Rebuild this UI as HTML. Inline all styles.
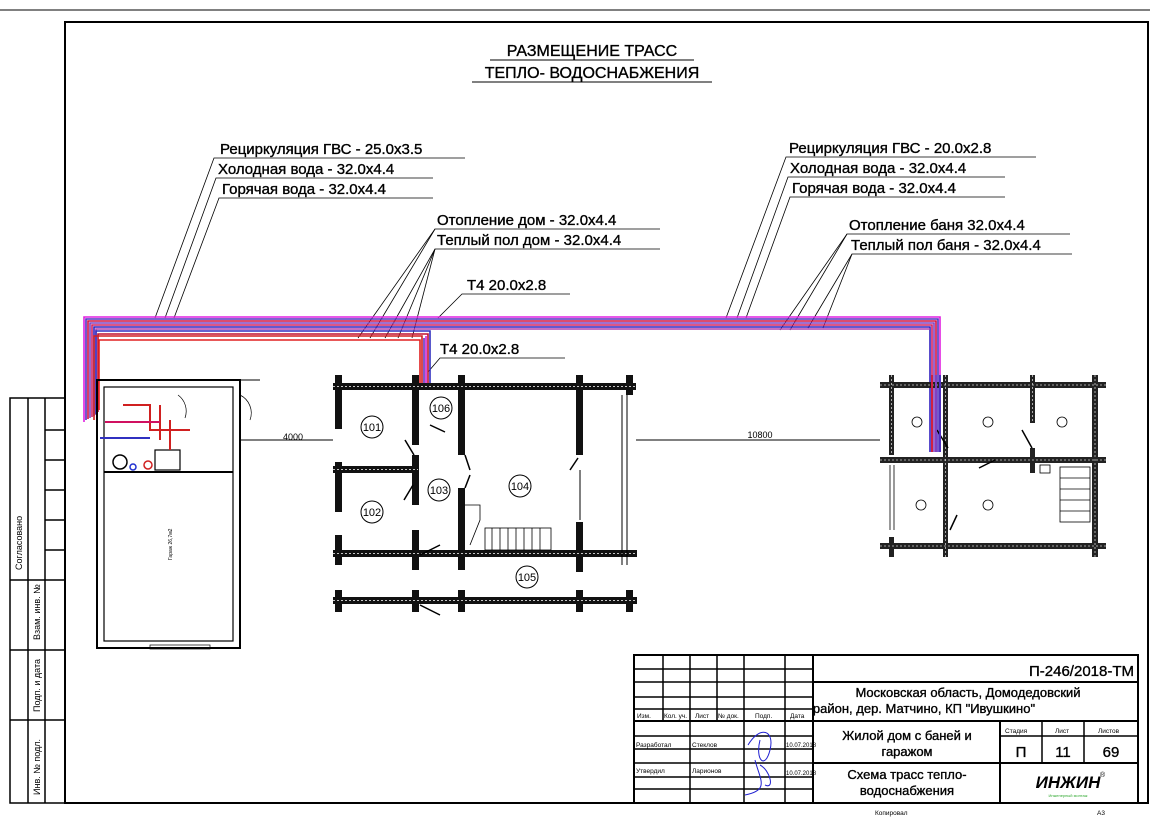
<!DOCTYPE html>
<html><head><meta charset="utf-8"><style>
html,body{margin:0;padding:0;background:#fff;}
svg{display:block}
text{font-family:"Liberation Sans",Arial,sans-serif;fill:#000}
.lb text{stroke:#000;stroke-width:0.35}
</style></head><body>
<svg width="1166" height="824" viewBox="0 0 1166 824" xmlns="http://www.w3.org/2000/svg">
<rect width="1166" height="824" fill="#fff"/>
<line x1="0" y1="10" x2="1150" y2="10" stroke="#000" stroke-width="1"/>
<rect x="65" y="22" width="1083" height="781" fill="none" stroke="#000" stroke-width="2"/>
<g stroke="#000" stroke-width="1.5" fill="none">
<rect x="10" y="398" width="55" height="405"/>
<line x1="28" y1="398" x2="28" y2="803"/>
<line x1="45" y1="398" x2="45" y2="803"/>
<line x1="10" y1="580" x2="65" y2="580"/>
<line x1="10" y1="650" x2="65" y2="650"/>
<line x1="10" y1="720" x2="65" y2="720"/>
<line x1="45" y1="430" x2="65" y2="430"/>
<line x1="45" y1="460" x2="65" y2="460"/>
<line x1="45" y1="490" x2="65" y2="490"/>
<line x1="45" y1="520" x2="65" y2="520"/>
<line x1="45" y1="550" x2="65" y2="550"/>
</g>
<text transform="translate(22,570) rotate(-90)" font-size="9">Согласовано</text>
<text transform="translate(40,640) rotate(-90)" font-size="9">Взам. инв. №</text>
<text transform="translate(40,712) rotate(-90)" font-size="9">Подп. и дата</text>
<text transform="translate(40,795) rotate(-90)" font-size="9">Инв. № подл.</text>

<g class="lb">
<text x="592" y="56" font-size="16" text-anchor="middle">РАЗМЕЩЕНИЕ ТРАСС</text>
<text x="592" y="78" font-size="16" text-anchor="middle">ТЕПЛО- ВОДОСНАБЖЕНИЯ</text>
</g>
<line x1="490" y1="60" x2="694" y2="60" stroke="#000" stroke-width="1"/>
<line x1="472" y1="82" x2="712" y2="82" stroke="#000" stroke-width="1"/>

<g font-size="15" class="lb">
<text x="220" y="154">Рециркуляция ГВС - 25.0x3.5</text>
<text x="218" y="174">Холодная вода - 32.0x4.4</text>
<text x="222" y="194">Горячая вода - 32.0x4.4</text>
<text x="437" y="225">Отопление дом - 32.0x4.4</text>
<text x="437" y="245">Теплый пол дом - 32.0x4.4</text>
<text x="467" y="290">Т4 20.0x2.8</text>
<text x="440" y="354">Т4 20.0x2.8</text>
<text x="789" y="153">Рециркуляция ГВС - 20.0x2.8</text>
<text x="790" y="173">Холодная вода - 32.0x4.4</text>
<text x="792" y="193">Горячая вода - 32.0x4.4</text>
<text x="849" y="230">Отопление баня 32.0x4.4</text>
<text x="851" y="250">Теплый пол баня - 32.0x4.4</text>
</g>
<g stroke="#000" stroke-width="0.8" fill="none">
<polyline points="155,318 214,158 465,158"/>
<polyline points="165,318 216,178 433,178"/>
<polyline points="174,318 219,198 433,198"/>
<polyline points="358,338 435,229 660,229"/>
<polyline points="370,338 435,229"/>
<polyline points="385,338 435,249 660,249"/>
<polyline points="398,338 435,249"/>
<polyline points="412,338 435,249"/>
<polyline points="438,318 462,294 570,294"/>
<polyline points="428,372 440,358 565,358"/>
<polyline points="726,318 786,157 1036,157"/>
<polyline points="737,318 788,177 1005,177"/>
<polyline points="746,318 790,197 1005,197"/>
<polyline points="780,330 847,234 1070,234"/>
<polyline points="790,330 847,234"/>
<polyline points="808,328 852,254 1072,254"/>
<polyline points="823,328 852,254"/>
</g>

<g fill="none" stroke-width="1.6">
<polyline points="84,422 84,317 940,317 940,452" stroke="#e020e0"/>
<polyline points="86,420 86,319 938,319 938,452" stroke="#5030c0"/>
<polyline points="88,419 88,321 936,321 936,452" stroke="#d01040"/>
<polyline points="90,418 90,323 934,323 934,452" stroke="#8040c0"/>
<polyline points="92,417 92,325 932,325 932,452" stroke="#d02060"/>
<polyline points="94,416 94,327 930,327 930,452" stroke="#3020c0"/>
<polyline points="96,415 96,329 930,329" stroke="#b040b0"/>
<polyline points="98,412 98,334 428,334 428,388" stroke="#c01030"/>
<polyline points="96,414 96,331 430,331 430,388" stroke="#3030c0"/>
<polyline points="94,420 94,336 422,336 422,388" stroke="#d02020"/>
<polyline points="99,410 99,340 420,340 420,388" stroke="#e02020"/>
<polyline points="424,338 424,390" stroke="#6030c0"/>
<polyline points="426,336 426,390" stroke="#d020d0"/>
</g>

<g stroke="#000" fill="none">
<rect x="97" y="380" width="143" height="268" stroke-width="2"/>
<rect x="104" y="387" width="129" height="254" stroke-width="1.2"/>
<line x1="104" y1="472" x2="233" y2="472" stroke-width="2"/>
<line x1="240" y1="380" x2="260" y2="380" stroke-width="1"/>
<line x1="240" y1="440" x2="333" y2="440" stroke-width="1"/>
<line x1="636" y1="440" x2="880" y2="440" stroke-width="1"/>
<path d="M178,395 A20,20 0 0 1 185,418" stroke-width="0.7"/>
<path d="M240,395 A20,20 0 0 1 250,420" stroke-width="0.7"/>
<rect x="155" y="450" width="25" height="20" stroke-width="1.2"/>
<circle cx="120" cy="462" r="7" stroke-width="1.5"/>
<rect x="150" y="645" width="60" height="4" stroke-width="0.7"/>
</g>
<g fill="none" stroke-width="2">
<polyline points="123,405 150,405 150,430 190,430" stroke="#d02020"/>
<line x1="160" y1="405" x2="160" y2="440" stroke="#d02020"/>
<line x1="105" y1="422" x2="160" y2="422" stroke="#d01060"/>
<line x1="170" y1="420" x2="170" y2="450" stroke="#d02020"/>
<line x1="100" y1="438" x2="150" y2="438" stroke="#3030c0"/>
</g>
<circle cx="133" cy="467" r="3" fill="none" stroke="#2030d0" stroke-width="1.5"/>
<circle cx="148" cy="465" r="4" fill="none" stroke="#d02020" stroke-width="1.5"/>
<text x="293" y="440" font-size="9" text-anchor="middle">4000</text>
<text x="760" y="438" font-size="9" text-anchor="middle">10800</text>
<text transform="translate(172,560) rotate(-90)" font-size="5">Гараж 26,7м2</text>

<g fill="#111">
<rect x="333" y="383" width="303" height="7"/>
<rect x="333" y="466" width="85" height="7"/>
<rect x="333" y="550" width="304" height="7"/>
<rect x="333" y="597" width="304" height="7"/>
<rect x="335" y="375" width="7" height="54"/><rect x="335" y="462" width="7" height="50"/><rect x="335" y="535" width="7" height="30"/><rect x="335" y="590" width="7" height="22"/>
<rect x="412" y="375" width="7" height="70"/><rect x="412" y="455" width="7" height="50"/><rect x="412" y="530" width="7" height="40"/><rect x="412" y="590" width="7" height="22"/>
<rect x="458" y="375" width="7" height="80"/><rect x="458" y="488" width="7" height="82"/><rect x="458" y="590" width="7" height="22"/>
<rect x="576" y="375" width="7" height="80"/><rect x="576" y="522" width="7" height="50"/><rect x="576" y="590" width="7" height="22"/>
<rect x="626" y="375" width="7" height="20"/><rect x="626" y="590" width="7" height="22"/>
</g>
<g stroke="#fff" stroke-width="0.8" stroke-dasharray="2,2">
<line x1="333" y1="386.5" x2="636" y2="386.5"/><line x1="333" y1="553.5" x2="636" y2="553.5"/><line x1="333" y1="600.5" x2="636" y2="600.5"/><line x1="333" y1="469.5" x2="418" y2="469.5"/>
</g>
<g stroke="#000" fill="none" stroke-width="1.5">
<line x1="405" y1="440" x2="414" y2="455"/><line x1="404" y1="500" x2="413" y2="485"/>
<line x1="430" y1="425" x2="445" y2="432"/><line x1="465" y1="455" x2="470" y2="470"/><line x1="465" y1="488" x2="470" y2="475"/>
<line x1="420" y1="555" x2="440" y2="545"/><line x1="420" y1="605" x2="440" y2="615"/>
<line x1="570" y1="470" x2="578" y2="458"/>
<line x1="622" y1="395" x2="622" y2="565" stroke-width="1"/>
<line x1="627" y1="395" x2="627" y2="565" stroke-width="1"/>
<line x1="580" y1="470" x2="580" y2="520" stroke-width="1"/>
</g>
<g stroke="#000" fill="none" stroke-width="0.8">
<rect x="485" y="528" width="66" height="22"/>
<line x1="492" y1="528" x2="492" y2="550"/><line x1="500" y1="528" x2="500" y2="550"/><line x1="508" y1="528" x2="508" y2="550"/><line x1="516" y1="528" x2="516" y2="550"/><line x1="524" y1="528" x2="524" y2="550"/><line x1="532" y1="528" x2="532" y2="550"/><line x1="540" y1="528" x2="540" y2="550"/>
<path d="M465,505 L480,505 L480,520 L470,545"/>
</g>
<g font-size="11" text-anchor="middle">
<circle cx="372" cy="427" r="11" stroke="#000" fill="none"/><text x="372" y="431">101</text>
<circle cx="372" cy="512" r="11" stroke="#000" fill="none"/><text x="372" y="516">102</text>
<circle cx="439" cy="490" r="11" stroke="#000" fill="none"/><text x="439" y="494">103</text>
<circle cx="441" cy="408" r="11" stroke="#000" fill="none"/><text x="441" y="412">106</text>
<circle cx="520" cy="486" r="11" stroke="#000" fill="none"/><text x="520" y="490">104</text>
<circle cx="527" cy="577" r="11" stroke="#000" fill="none"/><text x="527" y="581">105</text>
</g>

<g fill="#222">
<rect x="880" y="382" width="226" height="6"/>
<rect x="880" y="457" width="226" height="6"/>
<rect x="880" y="543" width="226" height="6"/>
<rect x="889" y="375" width="5" height="80"/><rect x="889" y="537" width="5" height="20"/>
<rect x="943" y="375" width="5" height="182"/>
<rect x="1030" y="375" width="5" height="48"/><rect x="1030" y="448" width="5" height="25"/>
<rect x="1092" y="375" width="6" height="182"/>
</g>
<g stroke="#ccc" stroke-width="0.8" stroke-dasharray="2,2">
<line x1="880" y1="385" x2="1106" y2="385"/><line x1="880" y1="460" x2="1106" y2="460"/><line x1="880" y1="546" x2="1106" y2="546"/>
<line x1="891.5" y1="375" x2="891.5" y2="455"/><line x1="945.5" y1="375" x2="945.5" y2="557"/><line x1="1032.5" y1="375" x2="1032.5" y2="423"/><line x1="1095" y1="375" x2="1095" y2="557"/>
</g>
<g stroke="#000" fill="none" stroke-width="0.8">
<line x1="890" y1="465" x2="890" y2="530"/><line x1="894" y1="465" x2="894" y2="530"/>
<rect x="1060" y="467" width="30" height="55"/>
<line x1="1060" y1="478" x2="1090" y2="478"/><line x1="1060" y1="489" x2="1090" y2="489"/><line x1="1060" y1="500" x2="1090" y2="500"/><line x1="1060" y1="511" x2="1090" y2="511"/>
<rect x="1040" y="465" width="10" height="8"/>
<g stroke-width="1.5"><line x1="937" y1="430" x2="948" y2="448"/><line x1="1022" y1="430" x2="1032" y2="448"/><line x1="979" y1="468" x2="995" y2="460"/><line x1="950" y1="530" x2="957" y2="515"/></g>
<circle cx="917" cy="422" r="5"/><circle cx="988" cy="422" r="5"/><circle cx="1062" cy="422" r="5"/><circle cx="921" cy="505" r="5"/><circle cx="988" cy="505" r="5"/>
</g>
<g stroke-width="2" fill="none">
<line x1="932" y1="375" x2="932" y2="452" stroke="#d02040"/><line x1="936" y1="375" x2="936" y2="452" stroke="#8040c0"/><line x1="940" y1="375" x2="940" y2="452" stroke="#5030c0"/>
</g>

<g stroke="#000" fill="none">
<rect x="634" y="655" width="504" height="148" stroke-width="2"/>
<line x1="813" y1="655" x2="813" y2="803" stroke-width="2"/>
<line x1="813" y1="682" x2="1138" y2="682" stroke-width="2"/>
<line x1="813" y1="721" x2="1138" y2="721" stroke-width="2"/>
<line x1="813" y1="763" x2="1138" y2="763" stroke-width="2"/>
<line x1="1000" y1="721" x2="1000" y2="803" stroke-width="2"/>
<line x1="1042" y1="721" x2="1042" y2="763" stroke-width="1.5"/>
<line x1="1084" y1="721" x2="1084" y2="763" stroke-width="1.5"/>
<line x1="1000" y1="736" x2="1138" y2="736" stroke-width="1.5"/>
<g stroke-width="1.5">
<line x1="663" y1="655" x2="663" y2="721"/><line x1="690" y1="655" x2="690" y2="803"/><line x1="717" y1="655" x2="717" y2="721"/><line x1="744" y1="655" x2="744" y2="803"/><line x1="785" y1="655" x2="785" y2="803"/>
<line x1="634" y1="669" x2="813" y2="669"/><line x1="634" y1="682" x2="813" y2="682"/><line x1="634" y1="697" x2="813" y2="697"/><line x1="634" y1="709" x2="813" y2="709"/><line x1="634" y1="721" x2="813" y2="721" stroke-width="2"/>
<line x1="634" y1="736" x2="813" y2="736"/><line x1="634" y1="749" x2="813" y2="749"/><line x1="634" y1="763" x2="813" y2="763"/><line x1="634" y1="777" x2="813" y2="777"/><line x1="634" y1="789" x2="813" y2="789"/>
</g>
</g>
<g font-size="6.5">
<text x="637" y="718">Изм.</text><text x="664" y="718">Кол. уч.</text><text x="695" y="718">Лист</text><text x="718" y="718">№ док.</text><text x="755" y="718">Подп.</text><text x="790" y="718">Дата</text>
<text x="636" y="747">Разработал</text><text x="692" y="747">Стеклов</text><text x="786" y="747" font-size="6">10.07.2018</text>
<text x="636" y="773">Утвердил</text><text x="692" y="773">Ларионов</text><text x="786" y="775" font-size="6">10.07.2018</text>
<text x="1005" y="733">Стадия</text><text x="1055" y="733">Лист</text><text x="1098" y="733">Листов</text>
<text x="875" y="815">Копировал</text><text x="1097" y="815">А3</text>
</g>
<path d="M748,745 C760,725 775,730 770,750 C765,770 755,760 760,740 M755,760 C760,780 770,790 745,795 M760,765 C770,770 775,790 765,785" fill="none" stroke="#2020d0" stroke-width="1"/>
<g class="lb">
<text x="1134" y="676" font-size="15" text-anchor="end">П-246/2018-ТМ</text>
<text x="968" y="697" font-size="13" text-anchor="middle">Московская область, Домодедовский</text>
<text x="924" y="713" font-size="13" text-anchor="middle">район, дер. Матчино, КП "Ивушкино"</text>
<text x="907" y="740" font-size="13" text-anchor="middle">Жилой дом с баней и</text>
<text x="907" y="756" font-size="13" text-anchor="middle">гаражом</text>
<text x="1021" y="757" font-size="15" text-anchor="middle">П</text>
<text x="1063" y="757" font-size="15" text-anchor="middle">11</text>
<text x="1111" y="757" font-size="15" text-anchor="middle">69</text>
<text x="907" y="779" font-size="13" text-anchor="middle">Схема трасс тепло-</text>
<text x="907" y="795" font-size="13" text-anchor="middle">водоснабжения</text>
</g>
<text x="1068" y="788" font-size="17" font-weight="bold" font-style="italic" text-anchor="middle">ИНЖИН</text>
<text x="1100" y="777" font-size="7">®</text>
<text x="1068" y="797" font-size="4" text-anchor="middle" style="fill:#3a3">Инженерный монтаж</text>
</svg>
</body></html>
